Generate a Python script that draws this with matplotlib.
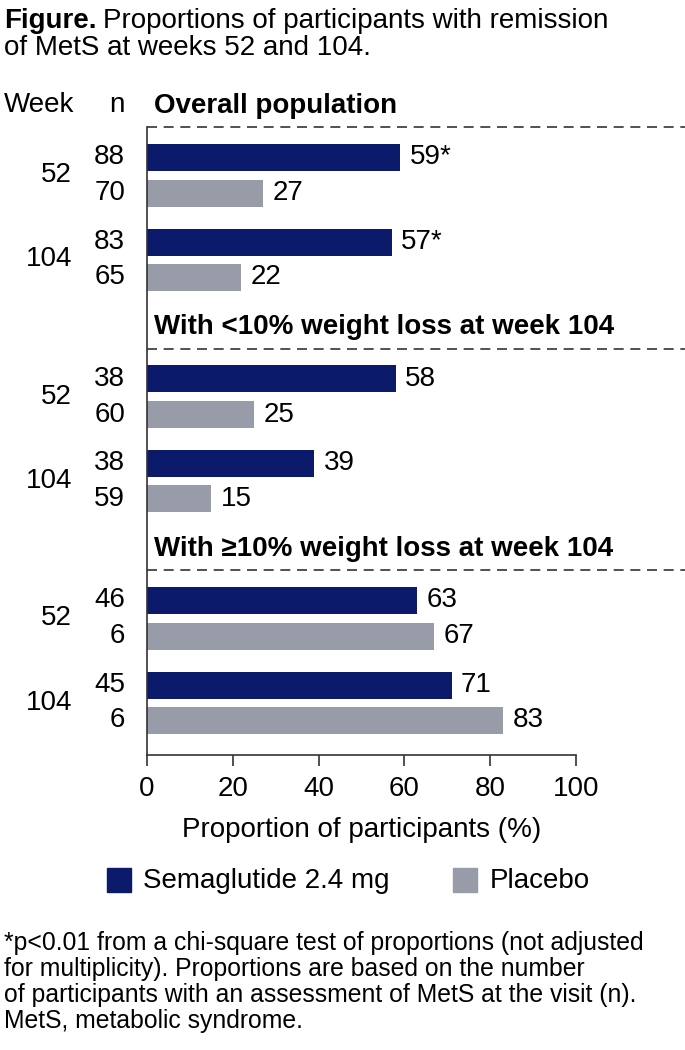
import matplotlib
matplotlib.use("Agg")
import matplotlib.pyplot as plt
import matplotlib.transforms as mtransforms

plt.rcParams['font.family'] = ['Liberation Sans', 'DejaVu Sans']

# Datos
secciones = ["Overall population",
             "With <10% weight loss at week 104",
             "With \u226510% weight loss at week 104"]
semanas = ["52", "104"]
n_sema = [[88, 83], [38, 38], [46, 45]]
n_placebo = [[70, 65], [60, 59], [6, 6]]
val_sema = [[59, 57], [58, 39], [63, 71]]
val_placebo = [[27, 22], [25, 15], [67, 83]]
marca_sema = [["*", "*"], ["", ""], ["", ""]]
xticks = [0, 20, 40, 60, 80, 100]

COLOR_SEMA = "#0b1a6b"
COLOR_PLAC = "#979ca8"
TXT = 20

W, H = 685, 1050
fig = plt.figure(figsize=(W / 100, H / 100), dpi=100)


def fx(x):
    return x / W


def fy(y):
    return 1 - y / H


# Ejes: en pixeles x 147..576, y 127..755
ax = fig.add_axes([fx(147), fy(755), fx(576) - fx(147), fy(127) - fy(755)])

paso = 35.0           # separacion entre barras (px)
alto_sec = 221.5      # separacion entre secciones (px)
offs = [30, 66, 115, 150]  # centro de cada barra respecto a la linea punteada

y_total = (755 - 127) / paso
trans_mixto = mtransforms.blended_transform_factory(ax.transAxes, ax.transData)

for s in range(len(secciones)):
    base = s * alto_sec
    ax.plot([0, (685 - 147) / (576 - 147)], [base / paso] * 2, transform=trans_mixto,
            color="#333333", lw=1.2, ls=(0, (6, 4)), clip_on=False)
    fig.text(fx(154), fy(127 + base - 21), secciones[s], fontsize=TXT,
             fontweight="bold", va="center", ha="left")
    for w in range(2):
        y1 = (base + offs[2 * w]) / paso
        y2 = (base + offs[2 * w + 1]) / paso
        ax.barh(y1, val_sema[s][w], height=27 / paso, color=COLOR_SEMA)
        ax.barh(y2, val_placebo[s][w], height=27 / paso, color=COLOR_PLAC)
        ax.text(val_sema[s][w] + 2.2, y1, f"{val_sema[s][w]}{marca_sema[s][w]}",
                va="center", ha="left", fontsize=TXT)
        ax.text(val_placebo[s][w] + 2.2, y2, f"{val_placebo[s][w]}",
                va="center", ha="left", fontsize=TXT)
        # etiquetas n y semana
        ax.text(-5.1, y1, f"{n_sema[s][w]}", va="center", ha="right", fontsize=TXT)
        ax.text(-5.1, y2, f"{n_placebo[s][w]}", va="center", ha="right", fontsize=TXT)
        ax.text(-17.5, (y1 + y2) / 2, semanas[w], va="center", ha="right", fontsize=TXT)

ax.set_xlim(0, 100)
ax.set_ylim(y_total, 0)
ax.set_xticks(xticks)
ax.set_xticklabels([str(t) for t in xticks], fontsize=TXT)
ax.tick_params(axis="x", direction="out", length=8, width=1.2, color="#333333", pad=7)
ax.set_yticks([])
for lado in ["top", "right"]:
    ax.spines[lado].set_visible(False)
for lado in ["left", "bottom"]:
    ax.spines[lado].set_color("#333333")
    ax.spines[lado].set_linewidth(1.2)
ax.set_xlabel("Proportion of participants (%)", fontsize=TXT, labelpad=11)

# Encabezados de columnas
fig.text(fx(4), fy(105), "Week", fontsize=TXT, va="center", ha="left")
fig.text(fx(125), fy(105), "n", fontsize=TXT, va="center", ha="right")

# Titulo
fig.text(fx(4), fy(21), "Figure.", fontsize=TXT, fontweight="bold", va="center", ha="left")
fig.text(fx(103), fy(21), "Proportions of participants with remission", fontsize=TXT,
         va="center", ha="left")
fig.text(fx(4), fy(48), "of MetS at weeks 52 and 104.", fontsize=TXT, va="center", ha="left")

# Leyenda
fig.patches.append(plt.Rectangle((fx(107), fy(892)), fx(24), 24 / H, transform=fig.transFigure,
                                 color=COLOR_SEMA))
fig.text(fx(143), fy(881), "Semaglutide 2.4 mg", fontsize=TXT, va="center", ha="left")
fig.patches.append(plt.Rectangle((fx(453), fy(892)), fx(24), 24 / H, transform=fig.transFigure,
                                 color=COLOR_PLAC))
fig.text(fx(490), fy(881), "Placebo", fontsize=TXT, va="center", ha="left")

# Nota al pie
nota = ["*p<0.01 from a chi-square test of proportions (not adjusted",
        "for multiplicity). Proportions are based on the number",
        "of participants with an assessment of MetS at the visit (n).",
        "MetS, metabolic syndrome."]
for i, linea in enumerate(nota):
    fig.text(fx(4), fy(943 + 26 * i), linea, fontsize=17.8, va="center", ha="left")

fig.savefig("out.png", dpi=100)
